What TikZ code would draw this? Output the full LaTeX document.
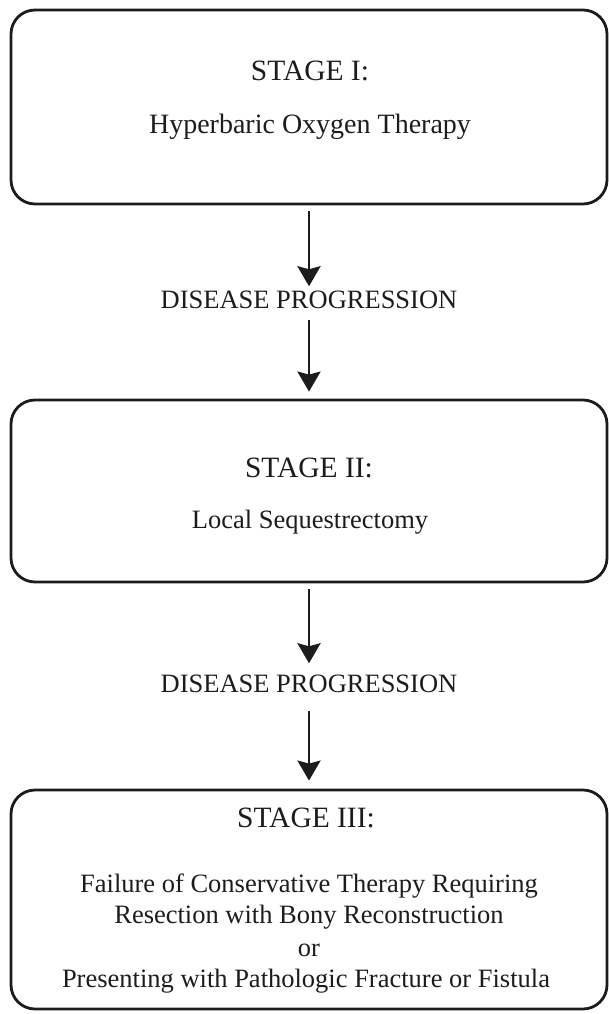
\documentclass[tikz,border=0pt]{standalone}
\usepackage{fontspec}
\setmainfont{Liberation Serif}
\usetikzlibrary{arrows.meta}
\definecolor{ink}{HTML}{1C1C1C}
\tikzset{
  stagebox/.style={draw=ink, line width=2.8pt, rounded corners=24pt, minimum width=596pt, inner sep=0pt},
  txt/.style={anchor=base, inner sep=0pt, text=ink, font=\fontsize{26.5}{32}\selectfont},
  title/.style={txt, font=\fontsize{29.5}{34}\selectfont},
  arr/.style={draw=ink, line width=2.8pt, -{Stealth[length=20pt, width=23pt, inset=3pt]}}
}
\begin{document}
\begin{tikzpicture}[x=1pt, y=-1pt]
\useasboundingbox (0,0) rectangle (609,1014);
% boxes
\node[stagebox, minimum height=194pt] (b1) at (309,107) {};
\node[stagebox, minimum height=182pt] (b2) at (309,491) {};
\node[stagebox, minimum height=219pt] (b3) at (309,899.5) {};
% box 1 texts
\node[title] (t1a) at (310,81) {STAGE I:};
\node[txt, font=\fontsize{28}{32}\selectfont] (t1b) at (310,133) {Hyperbaric Oxygen Therapy};
% progression 1
\node[txt] (d1) at (309,308) {DISEASE PROGRESSION};
% box 2 texts
\node[title] (t2a) at (309,477) {STAGE II:};
\node[txt] (t2b) at (310,528) {Local Sequestrectomy};
% progression 2
\node[txt] (d2) at (309,692) {DISEASE PROGRESSION};
% box 3 texts
\node[title] (t3a) at (306,827) {STAGE III:};
\node[txt] (t3b) at (309,892) {Failure of Conservative Therapy Requiring};
\node[txt] (t3c) at (309,923) {Resection with Bony Reconstruction};
\node[txt] (t3d) at (309,956) {or};
\node[txt] (t3e) at (306,987) {Presenting with Pathologic Fracture or Fistula};
% arrows
\draw[arr, shorten <=6pt, shorten >=4pt] (b1.south) -- (d1.north);
\draw[arr, shorten <=12pt, shorten >=7pt] (d1.south) -- (b2.north);
\draw[arr, shorten <=6pt, shorten >=11pt] (b2.south) -- (d2.north);
\draw[arr, shorten <=19pt, shorten >=8pt] (d2.south) -- (b3.north);
\end{tikzpicture}
\end{document}
